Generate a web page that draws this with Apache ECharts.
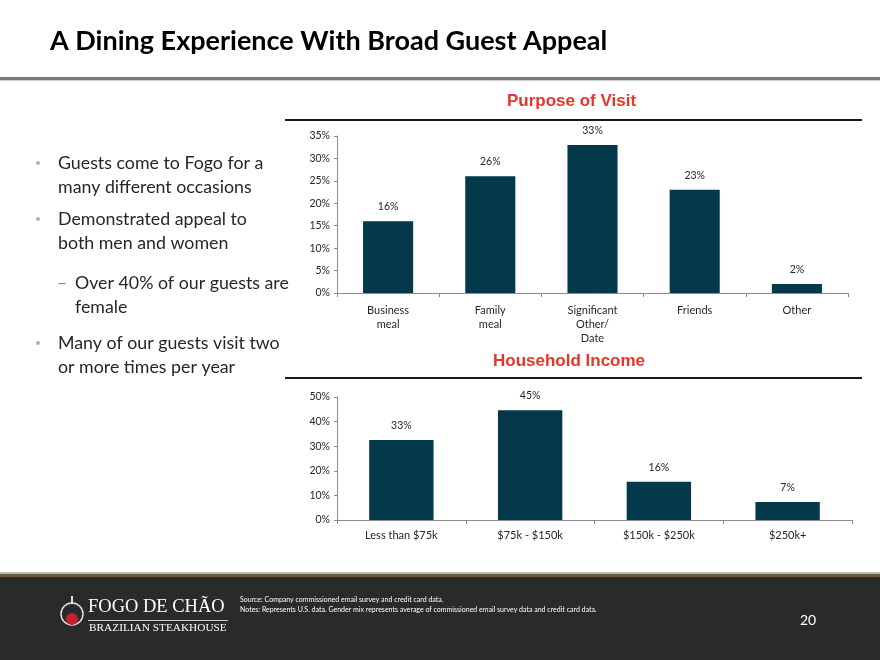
<!DOCTYPE html>
<html><head><meta charset="utf-8">
<script src="https://cdn.jsdelivr.net/npm/echarts@6/dist/echarts.min.js"></script>
<style>html,body{margin:0;padding:0;background:#fff}#c{width:880px;height:660px}</style>
</head><body><div id="c"></div>
<script>
const pageTitle = 'A Dining Experience With Broad Guest Appeal';
const visitTitle = 'Purpose of Visit';
const visitCats = ['Business\nmeal', 'Family\nmeal', 'Significant\nOther/\nDate', 'Friends', 'Other'];
const visitVals = [16, 26, 33, 23, 2];
const incomeTitle = 'Household Income';
const incomeCats = ['Less than $75k', '$75k - $150k', '$150k - $250k', '$250k+'];
const incomeVals = [32.5, 44.6, 15.5, 7.3];
const bullets = [
  ['Guests come to Fogo for a', 'many different occasions'],
  ['Demonstrated appeal to', 'both men and women'],
  ['Many of our guests visit two', 'or more times per year']
];
const subBullet = ['Over 40% of our guests are', 'female'];
const sourceNote = 'Source: Company commissioned email survey and credit card data.';
const notesNote = 'Notes: Represents U.S. data. Gender mix represents average of commissioned email survey data and credit card data.';
const pageNum = '20';

const FONT = 'Lato, "Open Sans", sans-serif';
const BAR = '#04384b';

const chart = echarts.init(document.getElementById('c'));

function txt(x, y, s, style) {
  return { type: 'text', left: x, top: y, style: Object.assign({ text: s, fontFamily: FONT, fontSize: 17.8, fill: '#262626' }, style || {}) };
}

const graphics = [];
// header
graphics.push(txt(50, 28, pageTitle, { fontSize: 27, fontWeight: 'bold', fill: '#000' }));
graphics.push({ type: 'rect', shape: { x: 0, y: 77, width: 880, height: 3 }, style: { fill: '#7a7a7a' } });
graphics.push({ type: 'rect', shape: { x: 0, y: 80, width: 880, height: 1 }, style: { fill: '#cfcfcf' } });
// bullets
const bY = [[154, 178], [210, 234], [334, 358]];
bullets.forEach((b, i) => {
  graphics.push({ type: 'circle', shape: { cx: 38, cy: bY[i][0] + 9, r: 2 }, style: { fill: '#b0b0b0' } });
  graphics.push(txt(58, bY[i][0], b[0]));
  graphics.push(txt(58, bY[i][1], b[1]));
});
graphics.push(txt(57, 274, '\u2013', { fill: '#888' }));
graphics.push(txt(75, 274, subBullet[0]));
graphics.push(txt(75, 298, subBullet[1]));
// chart titles and rules
graphics.push({ type: 'text', left: 507, top: 93, style: { text: visitTitle, fontFamily: 'Arial, "Liberation Sans", sans-serif', fontWeight: 'bold', fontSize: 17, fill: '#e8342a' } });
graphics.push({ type: 'rect', shape: { x: 285, y: 119, width: 577, height: 2 }, style: { fill: '#1a1a1a' } });
graphics.push({ type: 'text', left: 493, top: 353, style: { text: incomeTitle, fontFamily: 'Arial, "Liberation Sans", sans-serif', fontWeight: 'bold', fontSize: 17, fill: '#e8342a' } });
graphics.push({ type: 'rect', shape: { x: 285, y: 377, width: 577, height: 2 }, style: { fill: '#1a1a1a' } });
// footer
graphics.push({ type: 'rect', shape: { x: 0, y: 572, width: 880, height: 2 }, style: { fill: '#b9b9b9' } });
graphics.push({ type: 'rect', shape: { x: 0, y: 574, width: 880, height: 3 }, style: { fill: '#6b5a3c' } });
graphics.push({ type: 'rect', shape: { x: 0, y: 577, width: 880, height: 83 }, style: { fill: '#2a2a2c' } });
// logo (text-based)
graphics.push({ type: 'circle', shape: { cx: 72, cy: 614, r: 11 }, style: { fill: 'none', stroke: '#ddd', lineWidth: 1.5 } });
graphics.push({ type: 'circle', shape: { cx: 72, cy: 619, r: 6 }, style: { fill: '#c8202a' } });
graphics.push({ type: 'rect', shape: { x: 71, y: 596, width: 2, height: 8 }, style: { fill: '#ddd' } });
graphics.push({ type: 'text', left: 88, top: 598, style: { text: 'FOGO DE CHÃO', fontFamily: '"Liberation Serif", "DejaVu Serif", serif', fontSize: 18.5, fill: '#fff' } });
graphics.push({ type: 'rect', shape: { x: 88, y: 620, width: 140, height: 1 }, style: { fill: '#ccc' } });
graphics.push({ type: 'text', left: 89, top: 623, style: { text: 'BRAZILIAN STEAKHOUSE', fontFamily: '"Liberation Serif", "DejaVu Serif", serif', fontSize: 11.3, fill: '#fff' } });
graphics.push(txt(240, 596, sourceNote, { fontSize: 7, fill: '#fff' }));
graphics.push(txt(240, 606, notesNote, { fontSize: 7, fill: '#fff' }));
graphics.push(txt(800, 613, pageNum, { fontSize: 14, fill: '#fff' }));

const axisText = { fontFamily: FONT, fontSize: 10.5, color: '#262626' };
const xText = { fontFamily: FONT, fontSize: 11, color: '#262626' };

chart.setOption({
  animation: false,
  grid: [
    { left: 337, top: 136, width: 511, height: 157, containLabel: false },
    { left: 337, top: 397, width: 515, height: 123, containLabel: false }
  ],
  xAxis: [
    { type: 'category', gridIndex: 0, data: visitCats,
      axisLine: { lineStyle: { color: '#8c8c8c' } },
      axisTick: { show: true, length: 4, lineStyle: { color: '#8c8c8c' } },
      axisLabel: Object.assign({ margin: 10, lineHeight: 14, interval: 0 }, xText) },
    { type: 'category', gridIndex: 1, data: incomeCats,
      axisLine: { lineStyle: { color: '#8c8c8c' } },
      axisTick: { show: true, length: 4, lineStyle: { color: '#8c8c8c' } },
      axisLabel: Object.assign({ margin: 10, interval: 0 }, xText) }
  ],
  yAxis: [
    { type: 'value', gridIndex: 0, min: 0, max: 35, interval: 5,
      axisLine: { show: true, lineStyle: { color: '#8c8c8c' } },
      axisTick: { show: true, length: 3, lineStyle: { color: '#8c8c8c' } },
      splitLine: { show: false },
      axisLabel: Object.assign({ formatter: '{value}%', margin: 7 }, axisText) },
    { type: 'value', gridIndex: 1, min: 0, max: 50, interval: 10,
      axisLine: { show: true, lineStyle: { color: '#8c8c8c' } },
      axisTick: { show: true, length: 3, lineStyle: { color: '#8c8c8c' } },
      splitLine: { show: false },
      axisLabel: Object.assign({ formatter: '{value}%', margin: 7 }, axisText) }
  ],
  series: [
    { type: 'bar', xAxisIndex: 0, yAxisIndex: 0, data: visitVals, barWidth: '49%',
      itemStyle: { color: BAR },
      label: Object.assign({ show: true, position: 'top', distance: 9, formatter: p => Math.round(p.value) + '%' }, axisText) },
    { type: 'bar', xAxisIndex: 1, yAxisIndex: 1, data: incomeVals, barWidth: '50%',
      itemStyle: { color: BAR },
      label: Object.assign({ show: true, position: 'top', distance: 9, formatter: p => Math.round(p.value) + '%' }, axisText) }
  ],
  graphic: graphics
});
</script></body></html>
